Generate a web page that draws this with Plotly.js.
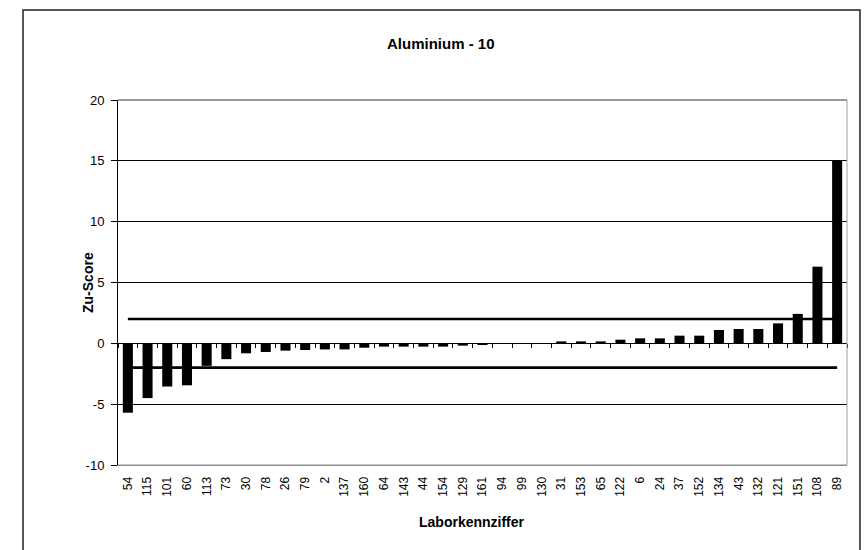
<!DOCTYPE html>
<html>
<head>
<meta charset="utf-8">
<script src="https://cdn.plot.ly/plotly-3.0.1.min.js"></script>
<style>
  html, body { margin: 0; padding: 0; background: #fff; }
  #chart { width: 866px; height: 550px; }
</style>
</head>
<body>
<div id="chart"></div>
<script>
// Laboratory codes (categories)
const labCodes = ['54','115','101','60','113','73','30','78','26','79','2','137','160','64','143','44','154','129','161','94','99','130','31','153','65','122','6','24','37','152','134','43','132','121','151','108','89'];
// Zu-Score values
const zuScores = [-5.7,-4.5,-3.55,-3.45,-1.85,-1.3,-0.82,-0.71,-0.6,-0.55,-0.5,-0.5,-0.36,-0.27,-0.27,-0.27,-0.27,-0.19,-0.14,0,0,0,0.16,0.16,0.16,0.3,0.41,0.41,0.63,0.63,1.1,1.18,1.18,1.64,2.42,6.3,15.05];
// Limit lines
const upperLimit = [2, 2];
const lowerLimit = [-2, -2];
const yTickVals = [-10, -5, 0, 5, 10, 15, 20];
const yTickText = ['-10', '-5', '0', '5', '10', '15', '20'];

const FONT = 'Liberation Sans, Arial, sans-serif';
const limitX = [labCodes[0], labCodes[labCodes.length - 1]];

const traces = [
  {
    type: 'bar', x: labCodes, y: zuScores,
    marker: { color: '#000000' },
    hoverinfo: 'x+y', showlegend: false
  },
  {
    type: 'scatter', mode: 'lines', x: limitX, y: upperLimit,
    line: { color: '#000000', width: 2.6 }, showlegend: false, hoverinfo: 'skip'
  },
  {
    type: 'scatter', mode: 'lines', x: limitX, y: lowerLimit,
    line: { color: '#000000', width: 2.6 }, showlegend: false, hoverinfo: 'skip'
  },
  {
    type: 'scatter', mode: 'lines', x: labCodes, y: labCodes.map(() => null),
    xaxis: 'x2', yaxis: 'y', showlegend: false, hoverinfo: 'skip'
  }
];

const layout = {
  width: 866, height: 550,
  margin: { l: 118, r: 19, t: 100, b: 85 },
  paper_bgcolor: '#ffffff', plot_bgcolor: '#ffffff',
  font: { family: FONT, color: '#000000', size: 12 },
  bargap: 0.49,
  title: {
    text: '<b>Aluminium - 10</b>',
    font: { family: FONT, size: 15, color: '#000000' },
    x: 0.509, xanchor: 'center', xref: 'container',
    y: 0.921, yanchor: 'middle', yref: 'container'
  },
  xaxis: {
    type: 'category', categoryorder: 'array', categoryarray: labCodes,
    range: [-0.5, labCodes.length - 0.5],
    tickangle: -90, tickfont: { family: FONT, size: 12 },
    ticklabelstandoff: 6,
    showline: true, linecolor: '#8c8c8c', linewidth: 1,
    ticks: '', showgrid: false, zeroline: false,
    title: { text: '' }
  },
  xaxis2: {
    type: 'category', categoryorder: 'array', categoryarray: labCodes,
    range: [-0.5, labCodes.length - 0.5],
    overlaying: 'x', anchor: 'free', position: 1/3,
    showticklabels: false, ticks: 'outside', ticklen: 4, tickcolor: '#000000',
    tickson: 'boundaries', showline: false, showgrid: false, zeroline: false
  },
  yaxis: {
    range: [-10, 20], tickvals: yTickVals, ticktext: yTickText,
    tickfont: { family: FONT, size: 13 },
    ticks: 'outside', ticklen: 6, tickcolor: '#000000',
    ticklabelstandoff: 4,
    showline: true, linecolor: '#000000', linewidth: 1,
    showgrid: true, gridcolor: '#000000', gridwidth: 1,
    zeroline: true, zerolinecolor: '#000000', zerolinewidth: 1,
    title: { text: '' }
  },
  shapes: [
    { type: 'line', xref: 'paper', yref: 'paper', x0: 1, x1: 1, y0: 0, y1: 1,
      line: { color: '#a0a0a0', width: 1 } },
    { type: 'line', xref: 'paper', yref: 'paper', x0: 0, x1: 1, y0: 1, y1: 1,
      line: { color: '#333333', width: 1 } },
    { type: 'line', xref: 'paper', yref: 'paper', x0: 0, x1: 1, y0: 0, y1: 0,
      line: { color: '#8c8c8c', width: 1 } },
    { type: 'rect', xref: 'paper', yref: 'paper',
      x0: -0.1303, x1: 1.0178, y0: -0.245, y1: 1.2466,
      line: { color: '#222222', width: 1.5 }, fillcolor: 'rgba(0,0,0,0)', layer: 'below' }
  ],
  annotations: [
    { text: '<b>Laborkennziffer</b>', xref: 'paper', yref: 'paper',
      x: (472 - 118) / 729, y: (465 - 522) / 365, xanchor: 'center', yanchor: 'middle',
      showarrow: false, font: { family: FONT, size: 14, color: '#000000' } },
    { text: '<b>Zu-Score</b>', xref: 'paper', yref: 'paper', textangle: -90,
      x: (88 - 118) / 729, y: (465 - 283) / 365, xanchor: 'center', yanchor: 'middle',
      showarrow: false, font: { family: FONT, size: 14, color: '#000000' } }
  ]
};

Plotly.newPlot('chart', traces, layout, { displayModeBar: false, staticPlot: true });
</script>
</body>
</html>
